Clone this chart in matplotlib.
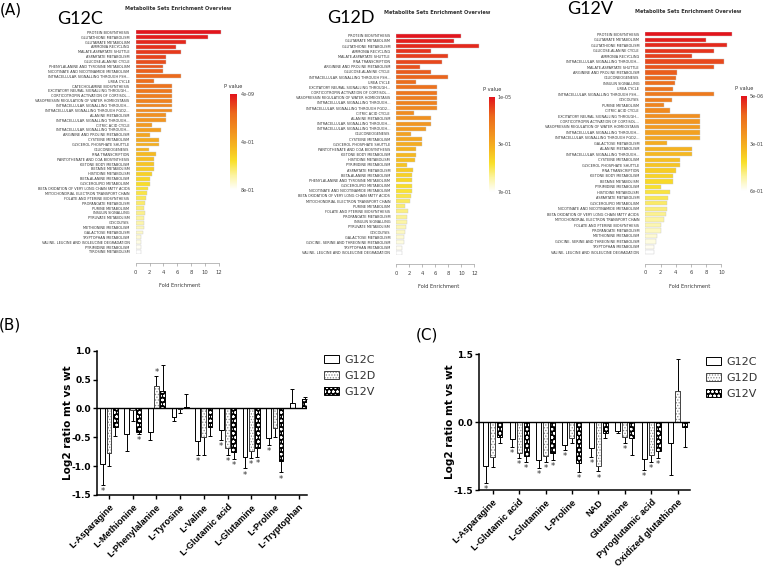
import numpy as np
import matplotlib
matplotlib.use("Agg")
import matplotlib.pyplot as plt
from matplotlib.colors import LinearSegmentedColormap

W, H = 765, 572

# ---------------- (A) metabolite set enrichment ----------------
g12c_sets = [
    "PROTEIN BIOSYNTHESIS", "GLUTATHIONE METABOLISM", "GLUTAMATE METABOLISM",
    "AMMONIA RECYCLING", "MALATE-ASPARTATE SHUTTLE", "ASPARTATE METABOLISM",
    "GLUCOSE-ALANINE CYCLE", "PHENYLALANINE AND TYROSINE METABOLISM",
    "NICOTINATE AND NICOTINAMIDE METABOLISM", "INTRACELLULAR SIGNALLING THROUGH FSH...",
    "UREA CYCLE", "CATECHOLAMINE BIOSYNTHESIS", "EXCITATORY NEURAL SIGNALLING THROUGH...",
    "CORTICOTROPIN ACTIVATION OF CORTISOL...", "VASOPRESSIN REGULATION OF WATER HOMEOSTASIS",
    "INTRACELLULAR SIGNALLING THROUGH...", "INTRACELLULAR SIGNALLING THROUGH PGD2...",
    "ALANINE METABOLISM", "INTRACELLULAR SIGNALLING THROUGH...", "CITRIC ACID CYCLE",
    "INTRACELLULAR SIGNALLING THROUGH...", "ARGININE AND PROLINE METABOLISM",
    "CYSTEINE METABOLISM", "GLYCEROL PHOSPHATE SHUTTLE", "GLUCONEOGENESIS",
    "RNA TRANSCRIPTION", "PANTOTHENATE AND COA BIOSYNTHESIS", "KETONE BODY METABOLISM",
    "BETAINE METABOLISM", "HISTIDINE METABOLISM", "BETA-ALANINE METABOLISM",
    "GLYCEROLIPID METABOLISM", "BETA OXIDATION OF VERY LONG CHAIN FATTY ACIDS",
    "MITOCHONDRIAL ELECTRON TRANSPORT CHAIN", "FOLATE AND PTERINE BIOSYNTHESIS",
    "PROPANOATE METABOLISM", "PURINE METABOLISM", "INSULIN SIGNALLING",
    "PYRUVATE METABOLISM", "GLYCOLYSIS", "METHIONINE METABOLISM", "GALACTOSE METABOLISM",
    "TRYPTOPHAN METABOLISM", "VALINE, LEUCINE AND ISOLEUCINE DEGRADATION",
    "PYRIMIDINE METABOLISM", "TYROSINE METABOLISM",
]
g12c_fold = [12.3, 10.4, 7.2, 5.8, 6.5, 4.3, 4.3, 4.0, 4.0, 6.5, 2.6, 5.2, 5.2, 5.2,
             5.2, 5.2, 5.2, 4.3, 4.3, 2.3, 3.7, 2.0, 3.3, 3.3, 1.9, 2.9, 2.6, 2.6,
             2.6, 2.4, 2.0, 2.0, 1.8, 1.7, 1.5, 1.4, 1.2, 1.4, 1.2, 1.2, 1.2, 1.1,
             0.8, 0.7, 0.7, 0.7]
g12c_pticks = ["4e-09", "4e-01", "8e-01"]

g12d_sets = [
    "PROTEIN BIOSYNTHESIS", "GLUTAMATE METABOLISM", "GLUTATHIONE METABOLISM",
    "AMMONIA RECYCLING", "MALATE-ASPARTATE SHUTTLE", "RNA TRANSCRIPTION",
    "ARGININE AND PROLINE METABOLISM", "GLUCOSE-ALANINE CYCLE",
    "INTRACELLULAR SIGNALLING THROUGH FSH...", "UREA CYCLE",
    "EXCITATORY NEURAL SIGNALLING THROUGH...", "CORTICOTROPIN ACTIVATION OF CORTISOL...",
    "VASOPRESSIN REGULATION OF WATER HOMEOSTASIS", "INTRACELLULAR SIGNALLING THROUGH...",
    "INTRACELLULAR SIGNALLING THROUGH PGD2...", "CITRIC ACID CYCLE", "ALANINE METABOLISM",
    "INTRACELLULAR SIGNALLING THROUGH...", "INTRACELLULAR SIGNALLING THROUGH...",
    "GLUCONEOGENESIS", "CYSTEINE METABOLISM", "GLYCEROL PHOSPHATE SHUTTLE",
    "PANTOTHENATE AND COA BIOSYNTHESIS", "KETONE BODY METABOLISM", "HISTIDINE METABOLISM",
    "PYRIMIDINE METABOLISM", "ASPARTATE METABOLISM", "BETA-ALANINE METABOLISM",
    "PHENYLALANINE AND TYROSINE METABOLISM", "GLYCEROLIPID METABOLISM",
    "NICOTINATE AND NICOTINAMIDE METABOLISM", "BETA OXIDATION OF VERY LONG CHAIN FATTY ACIDS",
    "MITOCHONDRIAL ELECTRON TRANSPORT CHAIN", "PURINE METABOLISM",
    "FOLATE AND PTERINE BIOSYNTHESIS", "PROPANOATE METABOLISM", "INSULIN SIGNALLING",
    "PYRUVATE METABOLISM", "GLYCOLYSIS", "GALACTOSE METABOLISM",
    "GLYCINE, SERINE AND THREONINE METABOLISM", "TRYPTOPHAN METABOLISM",
    "VALINE, LEUCINE AND ISOLEUCINE DEGRADATION",
]
g12d_fold = [10.0, 8.8, 12.7, 5.3, 7.9, 7.0, 3.6, 5.3, 7.9, 3.1, 6.3, 6.3, 6.3, 6.3,
             6.3, 2.7, 5.3, 5.3, 4.5, 2.3, 3.9, 3.9, 3.1, 3.1, 2.8, 1.7, 2.6, 2.4,
             2.4, 2.4, 2.4, 2.2, 2.1, 1.4, 1.8, 1.7, 1.6, 1.5, 1.4, 1.2, 1.2, 0.9, 0.8]
g12d_pticks = ["1e-05", "3e-01", "7e-01"]

g12v_sets = [
    "PROTEIN BIOSYNTHESIS", "GLUTAMATE METABOLISM", "GLUTATHIONE METABOLISM",
    "GLUCOSE-ALANINE CYCLE", "AMMONIA RECYCLING", "INTRACELLULAR SIGNALLING THROUGH...",
    "MALATE-ASPARTATE SHUTTLE", "ARGININE AND PROLINE METABOLISM", "GLUCONEOGENESIS",
    "INSULIN SIGNALLING", "UREA CYCLE", "INTRACELLULAR SIGNALLING THROUGH FSH...",
    "GLYCOLYSIS", "PURINE METABOLISM", "CITRIC ACID CYCLE",
    "EXCITATORY NEURAL SIGNALLING THROUGH...", "CORTICOTROPIN ACTIVATION OF CORTISOL...",
    "VASOPRESSIN REGULATION OF WATER HOMEOSTASIS", "INTRACELLULAR SIGNALLING THROUGH...",
    "INTRACELLULAR SIGNALLING THROUGH PGD2...", "GALACTOSE METABOLISM", "ALANINE METABOLISM",
    "INTRACELLULAR SIGNALLING THROUGH...", "CYSTEINE METABOLISM",
    "GLYCEROL PHOSPHATE SHUTTLE", "RNA TRANSCRIPTION", "KETONE BODY METABOLISM",
    "BETAINE METABOLISM", "PYRIMIDINE METABOLISM", "HISTIDINE METABOLISM",
    "ASPARTATE METABOLISM", "GLYCEROLIPID METABOLISM",
    "NICOTINATE AND NICOTINAMIDE METABOLISM", "BETA OXIDATION OF VERY LONG CHAIN FATTY ACIDS",
    "MITOCHONDRIAL ELECTRON TRANSPORT CHAIN", "FOLATE AND PTERINE BIOSYNTHESIS",
    "PROPANOATE METABOLISM", "METHIONINE METABOLISM",
    "GLYCINE, SERINE AND THREONINE METABOLISM", "TRYPTOPHAN METABOLISM",
    "VALINE, LEUCINE AND ISOLEUCINE DEGRADATION",
]
g12v_fold = [11.4, 8.0, 10.8, 9.0, 6.1, 10.4, 9.0, 4.2, 4.0, 3.9, 3.7, 9.0, 3.5, 2.5,
             3.2, 7.2, 7.2, 7.2, 7.2, 7.2, 2.9, 6.1, 6.1, 4.5, 4.5, 4.0, 3.6, 3.6,
             2.0, 3.3, 3.0, 2.8, 2.8, 2.7, 2.4, 2.1, 2.0, 1.6, 1.4, 1.1, 1.1]
g12v_pticks = ["5e-06", "3e-01", "6e-01"]

# ---------------- (B) amino acids ----------------
aa_names = ["L-Asparagine", "L-Methionine", "L-Phenylalanine", "L-Tyrosine", "L-Valine",
            "L-Glutamic acid", "L-Glutamine", "L-Proline", "L-Tryptophan"]
aa_g12c = [-0.97, -0.45, -0.40, -0.14, -0.57, -0.37, -0.84, -0.51, 0.10]
aa_g12c_err = [0.35, 0.29, 0.15, 0.07, 0.24, 0.18, 0.20, 0.13, 0.23]
aa_g12c_sig = [1, 0, 0, 0, 1, 1, 1, 1, 0]
aa_g12d = [-0.78, -0.03, 0.38, -0.01, -0.49, -0.69, -0.74, -0.34, 0.01]
aa_g12d_err = [0.22, 0.19, 0.19, 0.07, 0.31, 0.11, 0.12, 0.15, 0.0]
aa_g12d_sig = [0, 0, 1, 0, 0, 1, 1, 0, 0]
aa_g12v = [-0.33, -0.40, 0.30, 0.02, -0.33, -0.76, -0.69, -0.91, 0.16]
aa_g12v_err = [0.14, 0.05, 0.45, 0.23, 0.15, 0.11, 0.15, 0.20, 0.03]
aa_g12v_sig = [0, 1, 0, 0, 0, 1, 1, 1, 0]

# ---------------- (C) glutathione related ----------------
gsh_names = ["L-Asparagine", "L-Glutamic acid", "L-Glutamine", "L-Proline", "NAD",
             "Glutathione", "Pyroglutamic acid", "Oxidized glutathione"]
gsh_g12c = [-0.96, -0.38, -0.84, -0.51, -0.57, -0.19, -0.82, -0.46]
gsh_g12c_err = [0.39, 0.16, 0.18, 0.11, 0.19, 0.04, 0.23, 0.70]
gsh_g12c_sig = [1, 1, 1, 1, 1, 0, 1, 0]
gsh_g12d = [-0.78, -0.69, -0.74, -0.34, -0.96, -0.33, -0.72, 0.68]
gsh_g12d_err = [0.22, 0.11, 0.14, 0.13, 0.13, 0.13, 0.15, 0.71]
gsh_g12d_sig = [0, 1, 1, 0, 1, 1, 1, 0]
gsh_g12v = [-0.32, -0.75, -0.69, -0.90, -0.23, -0.35, -0.63, -0.10]
gsh_g12v_err = [0.15, 0.13, 0.15, 0.20, 0.12, 0.37, 0.16, 0.44]
gsh_g12v_sig = [0, 1, 1, 1, 0, 0, 1, 0]

series_names = ["G12C", "G12D", "G12V"]

plt.rcParams["font.family"] = ["DejaVu Sans"]
plt.rcParams["hatch.linewidth"] = 0.6

heat = LinearSegmentedColormap.from_list(
    "heat", [(0.0, "#ffffff"), (0.15, "#fcf4a0"), (0.3, "#f9e02a"), (0.45, "#f6b820"),
             (0.6, "#f29520"), (0.8, "#ec6a1c"), (1.0, "#e3141c")])

fig = plt.figure(figsize=(W / 100, H / 100), dpi=100)


def px_axes(l, t, r, b):
    return fig.add_axes([l / W, 1 - b / H, (r - l) / W, (b - t) / H])


def px_text(x, y, s, **kw):
    fig.text(x / W, 1 - y / H, s, **kw)


def enrichment(box, sets, fold, xmax, ticks, cbox, pticks, title_x, title_y):
    ax = px_axes(*box)
    n = len(sets)
    y = np.arange(n)
    colors = heat(1 - y / (n - 1))
    ax.barh(y, fold, height=0.78, color=colors, edgecolor="#c8c8c8", linewidth=0.3)
    ax.set_ylim(n - 0.5, -0.5)
    ax.set_xlim(0, xmax)
    ax.set_yticks(y)
    ax.set_yticklabels(sets, fontsize=2.5, color="#333333")
    ax.tick_params(axis="y", length=0, pad=4.5)
    for s in ["top", "right", "left"]:
        ax.spines[s].set_visible(False)
    ax.spines["bottom"].set_position(("outward", 6.5))
    ax.spines["bottom"].set_bounds(ticks[0], ticks[-1])
    ax.spines["bottom"].set_linewidth(0.4)
    ax.spines["bottom"].set_color("#888888")
    ax.set_xticks(ticks)
    ax.tick_params(axis="x", labelsize=3.8, length=2, width=0.4, colors="#888888",
                   labelcolor="#444444", pad=2.5)
    ax.set_xlabel("Fold Enrichment", fontsize=3.6, color="#333333", labelpad=6)
    ax.patch.set_alpha(0)
    px_text(title_x, title_y, "Metabolite Sets Enrichment Overview", fontsize=3.6,
            fontweight="bold", ha="center", va="center", color="#333333")

    cax = px_axes(*cbox)
    cax.imshow(np.linspace(1, 0, 200)[:, None], aspect="auto", cmap=heat,
               extent=[0, 1, 0, 1])
    cax.set_xticks([])
    cax.set_yticks([1, 0.5, 0])
    cax.set_yticklabels(pticks)
    cax.yaxis.tick_right()
    cax.tick_params(axis="y", length=0, labelsize=3.5, pad=2.5, labelcolor="#444444")
    for s in cax.spines.values():
        s.set_visible(False)
    cax.set_title("P value", fontsize=3.6, pad=4, color="#333333")


enrichment((135.7, 29.9, 223.1, 254.4), g12c_sets, g12c_fold, 12.6, [0, 2, 4, 6, 8, 10, 12],
           (230, 94, 237, 190), g12c_pticks, 178, 9)
enrichment((396.3, 33.1, 480.8, 255.3), g12d_sets, g12d_fold, 13.0, [0, 2, 4, 6, 8, 10, 12],
           (489, 97, 494.5, 192), g12d_pticks, 437, 12.5)
enrichment((645.3, 31.6, 733.5, 255.0), g12v_sets, g12v_fold, 11.6, [0, 2, 4, 6, 8, 10],
           (741, 96, 746.5, 191), g12v_pticks, 688.5, 11.5)

px_text(11, 10, "(A)", fontsize=11, ha="center", va="center")
px_text(80, 19, "G12C", fontsize=13, ha="center", va="center", family=["Lato", "DejaVu Sans"])
px_text(351, 18, "G12D", fontsize=13, ha="center", va="center", family=["Lato", "DejaVu Sans"])
px_text(590, 9, "G12V", fontsize=13, ha="center", va="center", family=["Lato", "DejaVu Sans"])


def grouped(box, names, vals, errs, sigs, xlim, ylim, yticks, width, step, leg_anchor):
    ax = px_axes(*box)
    x = np.arange(len(names))
    handles = []
    for k in range(3):
        v = np.array(vals[k])
        e = np.array(errs[k])
        xs = x + (k - 1) * step
        if k == 0:
            ax.bar(xs, v, width, color="white", edgecolor="black", linewidth=0.7, zorder=3)
            h = plt.Rectangle((0, 0), 1, 1, facecolor="white", edgecolor="black", linewidth=0.7)
        elif k == 1:
            ax.bar(xs, v, width, color="white", edgecolor="#8a8a8a", hatch="......",
                   linewidth=0, zorder=3)
            ax.bar(xs, v, width, fill=False, edgecolor="#444444", linewidth=0.7, zorder=4)
            h = (plt.Rectangle((0, 0), 1, 1, facecolor="white", edgecolor="#8a8a8a",
                               hatch="......", linewidth=0),
                 plt.Rectangle((0, 0), 1, 1, fill=False, edgecolor="#444444", linewidth=0.7))
        else:
            ax.bar(xs, v, width, color="black", edgecolor="white", hatch="oooo",
                   linewidth=0, zorder=3)
            ax.bar(xs, v, width, fill=False, edgecolor="black", linewidth=0.7, zorder=4)
            h = (plt.Rectangle((0, 0), 1, 1, facecolor="black", edgecolor="white",
                               hatch="oooo", linewidth=0),
                 plt.Rectangle((0, 0), 1, 1, fill=False, edgecolor="black", linewidth=0.7))
        handles.append(h)
        lower = np.where(v < 0, e, 0)
        upper = np.where(v >= 0, e, 0)
        ax.errorbar(xs, v, yerr=[lower, upper], fmt="none", ecolor="black",
                    elinewidth=0.7, capsize=1.2, capthick=0.7, zorder=2)
        for xi, vi, ei, si in zip(xs, v, e, sigs[k]):
            if si:
                if vi < 0:
                    ax.annotate("*", (xi, vi - ei), xytext=(0, -1.5), textcoords="offset points",
                                ha="center", va="top", fontsize=6, color="#333333")
                else:
                    ax.annotate("*", (xi, vi + ei), xytext=(0, -1), textcoords="offset points",
                                ha="center", va="bottom", fontsize=6, color="#333333")
    ax.axhline(0, color="black", linewidth=1.0, zorder=5)
    ax.set_xlim(*xlim)
    ax.set_ylim(*ylim)
    ax.set_yticks(yticks)
    ax.set_yticklabels([f"{t:.1f}" for t in yticks], fontweight="bold", fontsize=6.5)
    ax.set_xticks(x)
    ax.set_xticklabels(names, rotation=45, ha="right", rotation_mode="anchor",
                       fontweight="bold", fontsize=6.6, family=["Liberation Sans", "DejaVu Sans"])
    ax.tick_params(axis="both", direction="out", length=3, width=1.0, pad=1.5)
    ax.tick_params(axis="x", pad=2.5)
    for s in ["top", "right"]:
        ax.spines[s].set_visible(False)
    for s in ["left", "bottom"]:
        ax.spines[s].set_linewidth(1.1)
    ax.set_ylabel("Log2 ratio mt vs wt", fontweight="bold", fontsize=7.5, labelpad=-1)
    ax.patch.set_alpha(0)
    leg = ax.legend(handles, series_names, loc="upper left",
                    bbox_to_anchor=(leg_anchor[0] / W, 1 - leg_anchor[1] / H),
                    bbox_transform=fig.transFigure, frameon=False, fontsize=8,
                    handlelength=1.35, handleheight=0.72, handletextpad=0.5,
                    labelspacing=0.55, borderaxespad=0, borderpad=0)
    for t in leg.get_texts():
        t.set_color("#333333")
    return ax


grouped((97.15, 350.7, 306.9, 495.0), aa_names,
        [aa_g12c, aa_g12d, aa_g12v], [aa_g12c_err, aa_g12d_err, aa_g12v_err],
        [aa_g12c_sig, aa_g12d_sig, aa_g12v_sig],
        (-0.5, 8.35), (-1.5, 1.0), [1.0, 0.5, 0.0, -0.5, -1.0, -1.5], 0.2, 0.26, (324, 355))
grouped((479.0, 354.3, 690.0, 490.0), gsh_names,
        [gsh_g12c, gsh_g12d, gsh_g12v], [gsh_g12c_err, gsh_g12d_err, gsh_g12v_err],
        [gsh_g12c_sig, gsh_g12d_sig, gsh_g12v_sig],
        (-0.52, 7.47), (-1.5, 1.5), [1.5, 0.0, -1.5], 0.19, 0.265, (706, 357))

px_text(10, 325, "(B)", fontsize=11, ha="center", va="center")
px_text(427, 335, "(C)", fontsize=11, ha="center", va="center")

fig.savefig("out.png", dpi=100)
